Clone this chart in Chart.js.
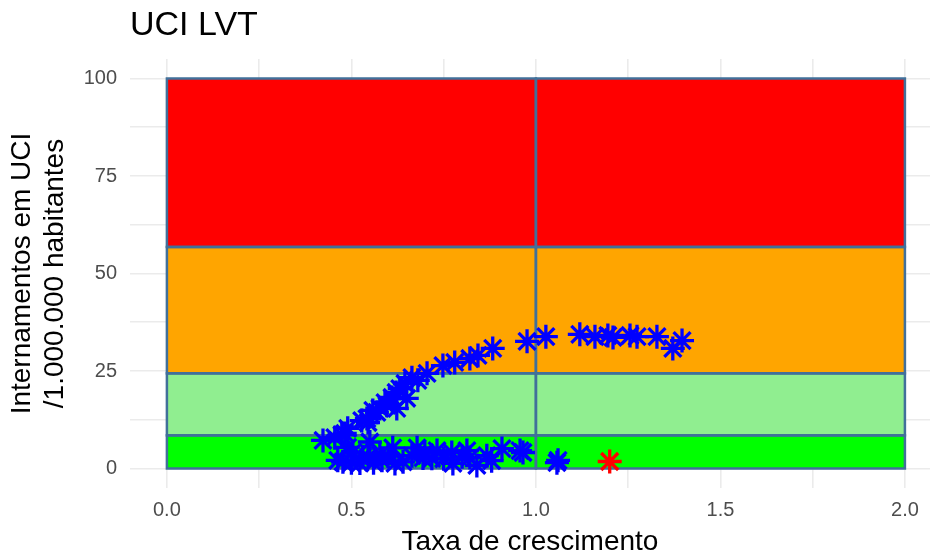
<!DOCTYPE html>
<html>
<head>
<meta charset="utf-8">
<script src="https://cdn.jsdelivr.net/npm/chart.js@4.4.1/dist/chart.umd.min.js"></script>
<style>
  html, body { margin: 0; padding: 0; background: #fff; }
  #wrap { width: 930px; height: 556px; }
</style>
</head>
<body>
<div id="wrap"><canvas id="chart"></canvas></div>
<script>
// growth rate (x) / ICU per million (y)
const growthRate = [
  0.423, 0.455, 0.482, 0.490, 0.528, 0.542, 0.545, 0.558, 0.569, 0.577, 0.591, 0.596, 0.610, 0.621, 0.623,
  0.631, 0.645, 0.650, 0.664, 0.680, 0.705, 0.748, 0.780, 0.821, 0.843, 0.883, 0.976, 1.027, 1.119, 1.160,
  1.195, 1.209, 1.255, 1.274, 1.328, 1.371, 1.396,
  0.474, 0.504, 0.477, 0.523, 0.550, 0.577, 0.612, 0.640, 0.678, 0.694, 0.718, 0.699, 0.732, 0.772, 0.775,
  0.813, 0.821, 0.840, 0.867, 0.908, 0.957, 0.965, 1.057, 1.060, 0.490, 0.463, 0.545, 0.583, 0.599, 0.618,
  0.664, 0.500, 0.530, 0.560, 0.750, 0.800, 0.880
];
const icuRate = [
  7.2, 7.9, 9.0, 10.3, 12.3, 12.8, 11.8, 14.9, 14.4, 15.4, 16.9, 16.2, 18.2, 19.5, 15.4,
  20.5, 21.8, 18.0, 23.3, 22.6, 24.4, 26.4, 27.2, 28.2, 29.0, 30.8, 32.6, 33.8, 34.4, 33.8,
  34.1, 33.6, 34.1, 33.8, 33.8, 30.8, 32.8,
  8.6, 4.2, 1.7, 1.4, 6.8, 3.5, 5.3, 1.7, 5.3, 2.7, 2.6, 4.1, 4.6, 4.1, 1.3,
  4.6, 2.8, 0.8, 3.3, 5.1, 4.6, 4.1, 1.5, 2.1, 5.4, 2.1, 2.8, 2.1, 3.3, 1.3,
  3.3, 1.5, 3.0, 1.5, 2.5, 3.0, 2.0
];
const lastGrowth = [1.2];
const lastIcu = [1.8];

const bandLimits = [0, 8.5, 24.4, 56.8, 100];
const bandColors = ['#00ff00', '#90ee90', '#ffa500', '#ff0000'];
const xSplits = [0, 1, 2];
const xTicks = [0, 0.25, 0.5, 0.75, 1, 1.25, 1.5, 1.75, 2];
const yTicks = [0, 12.5, 25, 37.5, 50, 62.5, 75, 87.5, 100];

Chart.defaults.font.family = '"Liberation Sans", Arial, sans-serif';

const zonesPlugin = {
  id: 'zones',
  beforeDatasetsDraw(chart) {
    const { ctx, scales: { x, y } } = chart;
    const cells = [];
    for (let b = 0; b < bandColors.length; b++) {
      const top = y.getPixelForValue(bandLimits[b + 1]);
      const bottom = y.getPixelForValue(bandLimits[b]);
      for (let s = 0; s < xSplits.length - 1; s++) {
        const left = x.getPixelForValue(xSplits[s]);
        const right = x.getPixelForValue(xSplits[s + 1]);
        cells.push([left, top, right - left, bottom - top, bandColors[b]]);
      }
    }
    ctx.save();
    cells.forEach(c => {
      ctx.fillStyle = c[4];
      ctx.fillRect(c[0], c[1], c[2], c[3]);
    });
    ctx.strokeStyle = '#41709a';
    ctx.lineWidth = 2.5;
    cells.forEach(c => ctx.strokeRect(c[0], c[1], c[2], c[3]));
    ctx.restore();
  }
};

const blueData = growthRate.map((g, i) => ({ x: g, y: icuRate[i] }));
const redData = lastGrowth.map((g, i) => ({ x: g, y: lastIcu[i] }));

const gridOpts = { color: '#ebebeb', lineWidth: 1.6, drawTicks: false };

new Chart(document.getElementById('chart'), {
  type: 'scatter',
  data: {
    datasets: [
      {
        data: redData,
        pointStyle: 'star',
        pointRadius: 12,
        borderWidth: 3.3,
        borderColor: '#ff0000',
        backgroundColor: '#ff0000'
      },
      {
        data: blueData,
        pointStyle: 'star',
        pointRadius: 12,
        borderWidth: 3.3,
        borderColor: '#0000ff',
        backgroundColor: '#0000ff'
      }
    ]
  },
  options: {
    responsive: true,
    maintainAspectRatio: false,
    animation: false,
    events: [],
    layout: { padding: 0, autoPadding: false },
    plugins: {
      legend: { display: false },
      tooltip: { enabled: false },
      title: {
        display: true,
        text: 'UCI LVT',
        align: 'start',
        fullSize: false,
        color: '#000',
        font: { size: 34, weight: 'normal', lineHeight: 1 },
        padding: { top: 9, bottom: 16 }
      }
    },
    scales: {
      x: {
        type: 'linear',
        min: -0.1,
        max: 2.068,
        afterBuildTicks: s => { s.ticks = xTicks.map(v => ({ value: v })); },
        afterFit: s => { s.height = 68; s.paddingLeft = 0; s.paddingRight = 0; },
        grid: gridOpts,
        border: { display: false },
        ticks: {
          padding: 10,
          color: '#4d4d4d',
          font: { size: 20 },
          maxRotation: 0,
          autoSkip: false,
          callback: v => (v % 0.5 === 0 ? v.toFixed(1) : '')
        },
        title: {
          display: true,
          text: 'Taxa de crescimento',
          color: '#000',
          font: { size: 28, lineHeight: 1 },
          padding: { top: 0, bottom: 0 }
        }
      },
      y: {
        type: 'linear',
        min: -5,
        max: 105,
        afterBuildTicks: s => { s.ticks = yTicks.map(v => ({ value: v })); },
        afterFit: s => { s.width = 130; s.paddingTop = 0; s.paddingBottom = 0; },
        grid: gridOpts,
        border: { display: false },
        ticks: {
          padding: 13,
          color: '#4d4d4d',
          font: { size: 20 },
          autoSkip: false,
          callback: v => (v % 25 === 0 ? String(v) : '')
        },
        title: {
          display: true,
          text: ['Internamentos em UCI', '/1.000.000 habitantes'],
          color: '#000',
          font: { size: 28, lineHeight: 1.18 },
          padding: { top: 5.5, bottom: 0 }
        }
      }
    }
  },
  plugins: [zonesPlugin]
});
</script>
</body>
</html>
